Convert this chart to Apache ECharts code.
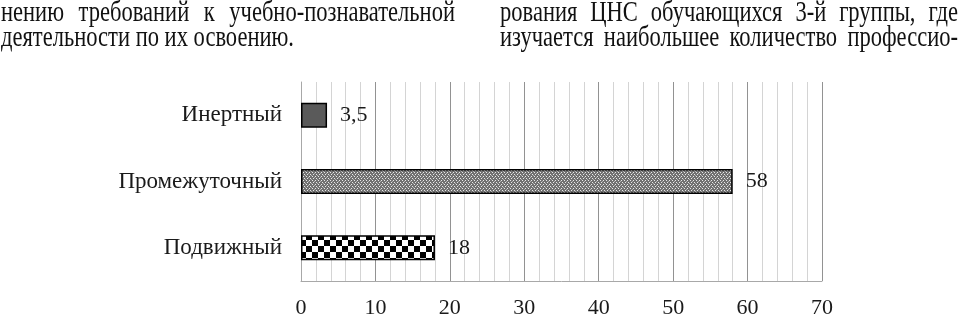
<!DOCTYPE html>
<html><head><meta charset="utf-8">
<script src="https://cdn.jsdelivr.net/npm/echarts@6/dist/echarts.min.js"></script>
<style>html,body{margin:0;padding:0;background:#fff}#c{width:961px;height:332px}</style>
</head><body><div id="c"></div>
<script>
const categories = ['Подвижный', 'Промежуточный', 'Инертный'];
const values = [18, 58, 3.5];
const xMin = 0, xMax = 70, xStep = 10;
const textLeft = ['нению требований к учебно-познавательной', 'деятельности по их освоению.'];
const textRight = ['рования ЦНС обучающихся 3-й группы, где', 'изучается наибольшее количество профессио-'];

const FONT = '"Liberation Serif", "Times New Roman", serif';

function checker() {
  const c = document.createElement('canvas'); c.width = 12; c.height = 12;
  const g = c.getContext('2d');
  g.fillStyle = '#fff'; g.fillRect(0, 0, 12, 12);
  g.fillStyle = '#000'; g.fillRect(0, 0, 6, 6); g.fillRect(6, 6, 6, 6);
  return c;
}
function dotted() {
  const c = document.createElement('canvas'); c.width = 6; c.height = 4;
  const g = c.getContext('2d');
  g.fillStyle = '#707070'; g.fillRect(0, 0, 6, 4);
  g.fillStyle = '#e8e8e8';
  g.fillRect(0, 0, 1, 1); g.fillRect(3, 0, 1, 1);
  g.fillRect(1, 2, 1, 1); g.fillRect(4, 2, 1, 1);
  g.fillStyle = '#b0b0b0';
  g.fillRect(2, 1, 1, 1); g.fillRect(5, 3, 1, 1);
  return c;
}
const fills = [
  { image: checker(), repeat: 'repeat' },
  { image: dotted(), repeat: 'repeat' },
  '#5a5a5a'
];

// top text (page of a scanned article)
const fs = 29;
const mc = document.createElement('canvas').getContext('2d');
mc.font = fs + 'px ' + FONT;
const sx = 293 / mc.measureText(textLeft[1]).width;
const graphics = [];
function placeLine(line, x0, x1, yMid, justify) {
  const words = line.split(' ');
  const ws = words.map(w => mc.measureText(w).width * sx);
  const sum = ws.reduce((a, b) => a + b, 0);
  const gap = justify ? (x1 - x0 - sum) / (words.length - 1) : mc.measureText(' ').width * sx;
  let x = x0;
  words.forEach((w, i) => {
    graphics.push({
      type: 'text', x: x, y: yMid, scaleX: sx, silent: true,
      style: { text: w, font: fs + 'px ' + FONT, fill: '#111', verticalAlign: 'middle', align: 'left' }
    });
    x += ws[i] + gap;
  });
}
placeLine(textLeft[0], 1, 455, 13, true);
placeLine(textLeft[1], 1, 455, 38, false);
placeLine(textRight[0], 500, 958, 13, true);
placeLine(textRight[1], 500, 958, 38, true);

const chart = echarts.init(document.getElementById('c'), null, { renderer: 'canvas' });
chart.setOption({
  animation: false,
  backgroundColor: '#fff',
  graphic: graphics,
  grid: { left: 301, right: 139, top: 82, bottom: 51, containLabel: false },
  xAxis: {
    type: 'value', min: xMin, max: xMax, interval: xStep,
    axisLine: { show: true, lineStyle: { color: '#a8a8a8', width: 1 } },
    axisTick: { show: false },
    axisLabel: { fontFamily: FONT, fontSize: 22, color: '#1a1a1a', margin: 16 },
    splitLine: { show: true, lineStyle: { color: '#929292', width: 1 } },
    minorTick: { show: false, splitNumber: 5 },
    minorSplitLine: { show: true, lineStyle: { color: '#d4d4d4', width: 1 } }
  },
  yAxis: {
    type: 'category', data: categories,
    axisLine: { show: true, lineStyle: { color: '#a8a8a8', width: 1 } },
    axisTick: { show: false },
    axisLabel: { fontFamily: FONT, fontSize: 23, color: '#1a1a1a', margin: 19 }
  },
  series: [{
    type: 'bar',
    barWidth: 25,
    data: values.map((v, i) => ({
      value: v,
      itemStyle: { color: fills[i], borderColor: '#000', borderWidth: 1.5 }
    })),
    label: {
      show: true, position: 'right', distance: 13,
      fontFamily: FONT, fontSize: 22, color: '#1a1a1a',
      formatter: p => String(p.value).replace('.', ',')
    }
  }]
});
</script>
</body></html>
